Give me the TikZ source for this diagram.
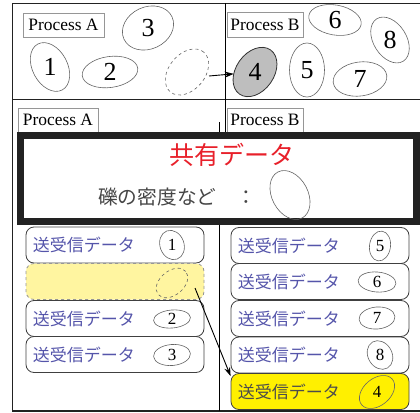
\documentclass[tikz,border=0pt]{standalone}
\usepackage{fontspec}
\setmainfont{Liberation Serif}
\newfontfamily\jpfont{Noto Sans CJK JP}
\usetikzlibrary{shapes.geometric,arrows.meta,calc}
\definecolor{framegray}{RGB}{34,34,34}
\definecolor{labgray}{RGB}{150,150,150}
\definecolor{ellgray}{RGB}{100,100,100}
\definecolor{jpblue}{RGB}{85,85,170}
\definecolor{jpred}{RGB}{232,32,42}
\definecolor{jpgray}{RGB}{70,70,70}
\definecolor{paleyellow}{RGB}{255,245,160}
\definecolor{brightyellow}{RGB}{255,240,0}
\definecolor{fillgray}{RGB}{190,190,190}
\begin{document}
\begin{tikzpicture}[x=1pt,y=-1pt,
  ell/.style={draw=ellgray, ellipse, inner sep=0pt, outer sep=0pt, line width=0.6pt},
  dig/.style={font=\fontsize{26}{26}\selectfont, inner sep=0pt},
  sdig/.style={font=\fontsize{17}{17}\selectfont, inner sep=0pt},
  proclabel/.style={draw=labgray, line width=0.7pt, fill=white, inner sep=0pt, font=\fontsize{17.4}{17.4}\selectfont},
  dbox/.style={draw=black!75, line width=0.8pt, rounded corners=8pt, minimum width=178pt, minimum height=36pt, inner sep=0pt},
  dtext/.style={font=\jpfont\fontsize{17}{17}\selectfont, text=jpblue, inner sep=0pt, anchor=west},
  frameline/.style={draw=framegray, line width=1.2pt},
  arr/.style={-{Stealth[length=9pt,width=6pt]}, line width=0.9pt}
]
\useasboundingbox (0,0) rectangle (420,412);

% outer frame
\coordinate (tl) at (12.5,3.5);
\coordinate (tr) at (420,3.5);
\coordinate (ml) at (12.5,99.5);
\coordinate (mr) at (420,99.5);
\coordinate (bl) at (12.5,411);
\coordinate (br) at (420,411);
\draw[frameline] (tr) -- (tl) -- (bl) -- (br);
\draw[frameline] (ml) -- (mr);
% dividers
\coordinate (dta) at (225.5,3.5);
\coordinate (dtb) at (225.5,132);
\coordinate (dba) at (219.5,122);
\coordinate (dbb) at (219.5,411);
\draw[line width=1pt, black] (dta) -- (dtb);
\draw[line width=1pt, black] (dba) -- (dbb);

% top labels
\node[proclabel, minimum width=81pt, minimum height=24pt] (pa1) at (63.5,25) {Process A};
\node[proclabel, minimum width=76pt, minimum height=25pt] (pb1) at (265,24.5) {Process B};

% top ellipses process A
\node[ell, minimum width=53pt, minimum height=42pt, rotate=25] (e3) at (148,28) {};
\node[dig] at (e3) {3};
\node[ell, minimum width=52pt, minimum height=35pt, rotate=-62] (e1) at (50,67) {};
\node[dig] at (e1) {1};
\node[ell, minimum width=56pt, minimum height=31pt, rotate=8] (e2) at (110,72) {};
\node[dig] at (e2) {2};
\node[ell, dashed, minimum width=52pt, minimum height=36pt, rotate=50] (ed) at (187,72) {};

% top ellipses process B
\node[ell, draw=black!80, fill=fillgray, line width=0.8pt, minimum width=54pt, minimum height=38pt, rotate=55] (e4) at (255,72) {};
\node[dig] at (e4) {4};
\node[ell, minimum width=35pt, minimum height=54pt] (e5) at (307,70) {};
\node[dig] at (e5) {5};
\node[ell, minimum width=53pt, minimum height=30pt, rotate=-10] (e6) at (335,20) {};
\node[dig] at (e6) {6};
\node[ell, minimum width=54pt, minimum height=34pt, rotate=8] (e7) at (360,79) {};
\node[dig] at (e7) {7};
\node[ell, minimum width=50pt, minimum height=33pt, rotate=-58] (e8) at (390,40) {};
\node[dig] at (e8) {8};

\coordinate (edout) at (209,76);
\draw[arr] (edout) -- (e4);

% bottom labels
\node[proclabel, minimum width=80pt, minimum height=24pt] (pa2) at (58,120) {Process A};
\node[proclabel, minimum width=76pt, minimum height=24pt] (pb2) at (265,120) {Process B};

% shared data frame
\node[draw=framegray, line width=7pt, fill=white, minimum width=396pt, minimum height=86.5pt, inner sep=0pt] (shared) at (218.5,178.25) {};
\node[font=\jpfont\fontsize{25}{25}\selectfont, text=jpred, inner sep=0pt] (sharedt) at (232,155) {共有データ};
\node[font=\jpfont\fontsize{19.7}{19.7}\selectfont, text=jpgray, inner sep=0pt, anchor=west] (dens) at (98,197) {礫の密度など　：};
\node[ell, minimum width=52pt, minimum height=36pt, rotate=-62] (es) at (290,195) {};

% left column data boxes
\node[dbox] (l1) at (115,245) {};
\node[dtext] at ([xshift=7pt]l1.west) {送受信データ};
\node[ell, minimum width=30pt, minimum height=24pt, rotate=-70] (le1) at (172,245) {};
\node[sdig] at (le1) {1};

\node[dbox, draw=labgray, dashed, fill=paleyellow] (ly) at (115,281.5) {};
\node[ell, dashed, minimum width=36pt, minimum height=24pt, rotate=40] (led) at (172,283) {};

\node[dbox] (l2) at (115,318.5) {};
\node[dtext] at ([xshift=7pt]l2.west) {送受信データ};
\node[ell, minimum width=37pt, minimum height=18pt, rotate=5] (le2) at (172,319) {};
\node[sdig] at (le2) {2};

\node[dbox] (l3) at (115,354.5) {};
\node[dtext] at ([xshift=7pt]l3.west) {送受信データ};
\node[ell, minimum width=37pt, minimum height=21pt, rotate=5] (le3) at (172,355) {};
\node[sdig] at (le3) {3};

% right column data boxes
\node[dbox] (r5) at (320,245.5) {};
\node[dtext] at ([xshift=7pt]r5.west) {送受信データ};
\node[ell, minimum width=30pt, minimum height=21pt, rotate=82] (re5) at (380,246) {};
\node[sdig] at (re5) {5};

\node[dbox] (r6) at (320,281.5) {};
\node[dtext] at ([xshift=7pt]r6.west) {送受信データ};
\node[ell, minimum width=38pt, minimum height=20pt, rotate=-5] (re6) at (377,282) {};
\node[sdig] at (re6) {6};

\node[dbox] (r7) at (320,318.5) {};
\node[dtext] at ([xshift=7pt]r7.west) {送受信データ};
\node[ell, minimum width=36pt, minimum height=22pt, rotate=5] (re7) at (377,318) {};
\node[sdig] at (re7) {7};

\node[dbox] (r8) at (320,355) {};
\node[dtext] at ([xshift=7pt]r8.west) {送受信データ};
\node[ell, minimum width=30pt, minimum height=24pt, rotate=-60] (re8) at (380,355) {};
\node[sdig] at (re8) {8};

\node[dbox, fill=brightyellow] (r4) at (320,391.5) {};
\node[dtext, text=black!70] at ([xshift=7pt]r4.west) {送受信データ};
\node[ell, draw=black!60, minimum width=40pt, minimum height=27pt, rotate=40] (re4) at (377,392) {};
\node[sdig] at (re4) {4};

% transfer arrow
\coordinate (ldout) at (195,288);
\draw[arr] (ldout) -- ([yshift=-3pt]r4.north west);
\end{tikzpicture}
\end{document}
